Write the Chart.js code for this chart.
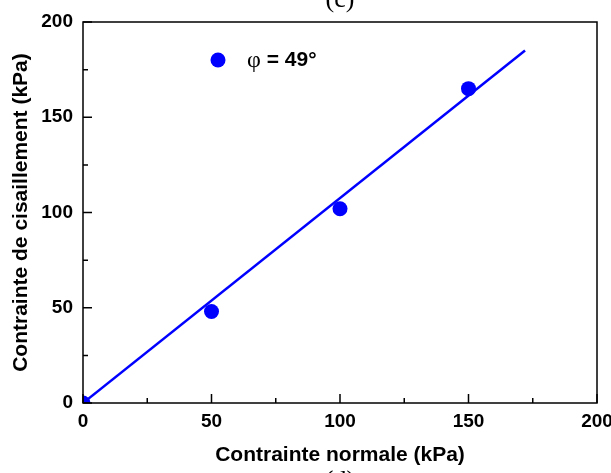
<!DOCTYPE html>
<html>
<head>
<meta charset="utf-8">
<script src="https://cdn.jsdelivr.net/npm/chart.js"></script>
<style>
  html, body { margin: 0; padding: 0; background: #fff; }
  #wrap { width: 611px; height: 473px; }
</style>
</head>
<body>
<div id="wrap"><canvas id="c"></canvas></div>
<script>
// valeurs
const normalStress = [0, 50, 100, 150];      // kPa
const shearStress = [0, 48, 102, 165];       // kPa
const fitX = [0, 172];
const fitY = [0, 185];
const tickValues = [0, 50, 100, 150, 200];
const legendLabel = ' = 49°';

const blue = '#0000ff';

// cadre + graduations vers l'intérieur
const framePlugin = {
    id: 'frame',
    afterDraw(chart) {
        const {ctx, chartArea: a, scales: {x, y}} = chart;
        ctx.save();
        ctx.strokeStyle = '#000';
        ctx.lineWidth = 1.5;
        ctx.strokeRect(a.left, a.top, a.right - a.left, a.bottom - a.top);
        ctx.beginPath();
        for (let v = 0; v <= 200; v += 25) {
            const len = v % 50 === 0 ? 9 : 5;
            const px = x.getPixelForValue(v);
            ctx.moveTo(px, a.bottom);
            ctx.lineTo(px, a.bottom - len);
            const py = y.getPixelForValue(v);
            ctx.moveTo(a.left, py);
            ctx.lineTo(a.left + len, py);
        }
        ctx.stroke();

        // légende
        ctx.fillStyle = blue;
        ctx.beginPath();
        ctx.arc(218, 60, 7.5, 0, Math.PI * 2);
        ctx.fill();
        ctx.fillStyle = '#000';
        ctx.textBaseline = 'middle';
        ctx.font = '24px "Liberation Serif"';
        ctx.fillText('φ', 247, 61);
        const w = ctx.measureText('φ').width;
        ctx.font = 'bold 21px "Liberation Sans"';
        ctx.fillText(legendLabel, 247 + w, 60);

        // (c) / (d) coupés
        ctx.textAlign = 'center';
        ctx.textBaseline = 'alphabetic';
        ctx.font = '26px "Liberation Serif"';
        ctx.fillText('(c)', 340, 7);
        ctx.fillText('(d)', 340, 488);
        ctx.restore();
    }
};

new Chart(document.getElementById('c'), {
    type: 'scatter',
    data: {
        datasets: [{
            type: 'line',
            data: fitX.map((v, i) => ({x: v, y: fitY[i]})),
            borderColor: blue,
            borderWidth: 2.5,
            pointRadius: 0,
            clip: 0,
            order: 0
        }, {
            data: normalStress.map((v, i) => ({x: v, y: shearStress[i]})),
            backgroundColor: blue,
            borderColor: blue,
            pointRadius: 7.5,
            borderWidth: 0,
            clip: 0,
            order: 1
        }]
    },
    options: {
        responsive: true,
        maintainAspectRatio: false,
        animation: false,
        layout: { padding: { top: 22, right: 14, left: 0, bottom: 0 } },
        plugins: {
            legend: { display: false },
            tooltip: { enabled: false }
        },
        scales: {
            x: {
                min: 0, max: 200,
                afterBuildTicks: s => { s.ticks = tickValues.map(v => ({value: v})); },
                afterFit: s => { s.height = 70; s.paddingRight = 0; s.paddingLeft = 0; },
                grid: { display: false, drawTicks: false },
                border: { display: false },
                ticks: {
                    color: '#000', padding: 7, maxRotation: 0,
                    font: { family: 'Liberation Sans', size: 19, weight: 'bold' }
                },
                title: {
                    display: true, text: 'Contrainte normale (kPa)', color: '#000',
                    padding: { top: 0, bottom: 5 },
                    font: { family: 'Liberation Sans', size: 21, weight: 'bold' }
                }
            },
            y: {
                min: 0, max: 200,
                afterBuildTicks: s => { s.ticks = tickValues.map(v => ({value: v})); },
                afterFit: s => { s.width = 83; s.paddingTop = 0; s.paddingBottom = 0; },
                grid: { display: false, drawTicks: false },
                border: { display: false },
                ticks: {
                    color: '#000', padding: 10,
                    font: { family: 'Liberation Sans', size: 19, weight: 'bold' }
                },
                title: {
                    display: true, text: 'Contrainte de cisaillement (kPa)', color: '#000',
                    padding: { top: 9, bottom: 0 },
                    font: { family: 'Liberation Sans', size: 21, weight: 'bold' }
                }
            }
        }
    },
    plugins: [framePlugin]
});
</script>
</body>
</html>
